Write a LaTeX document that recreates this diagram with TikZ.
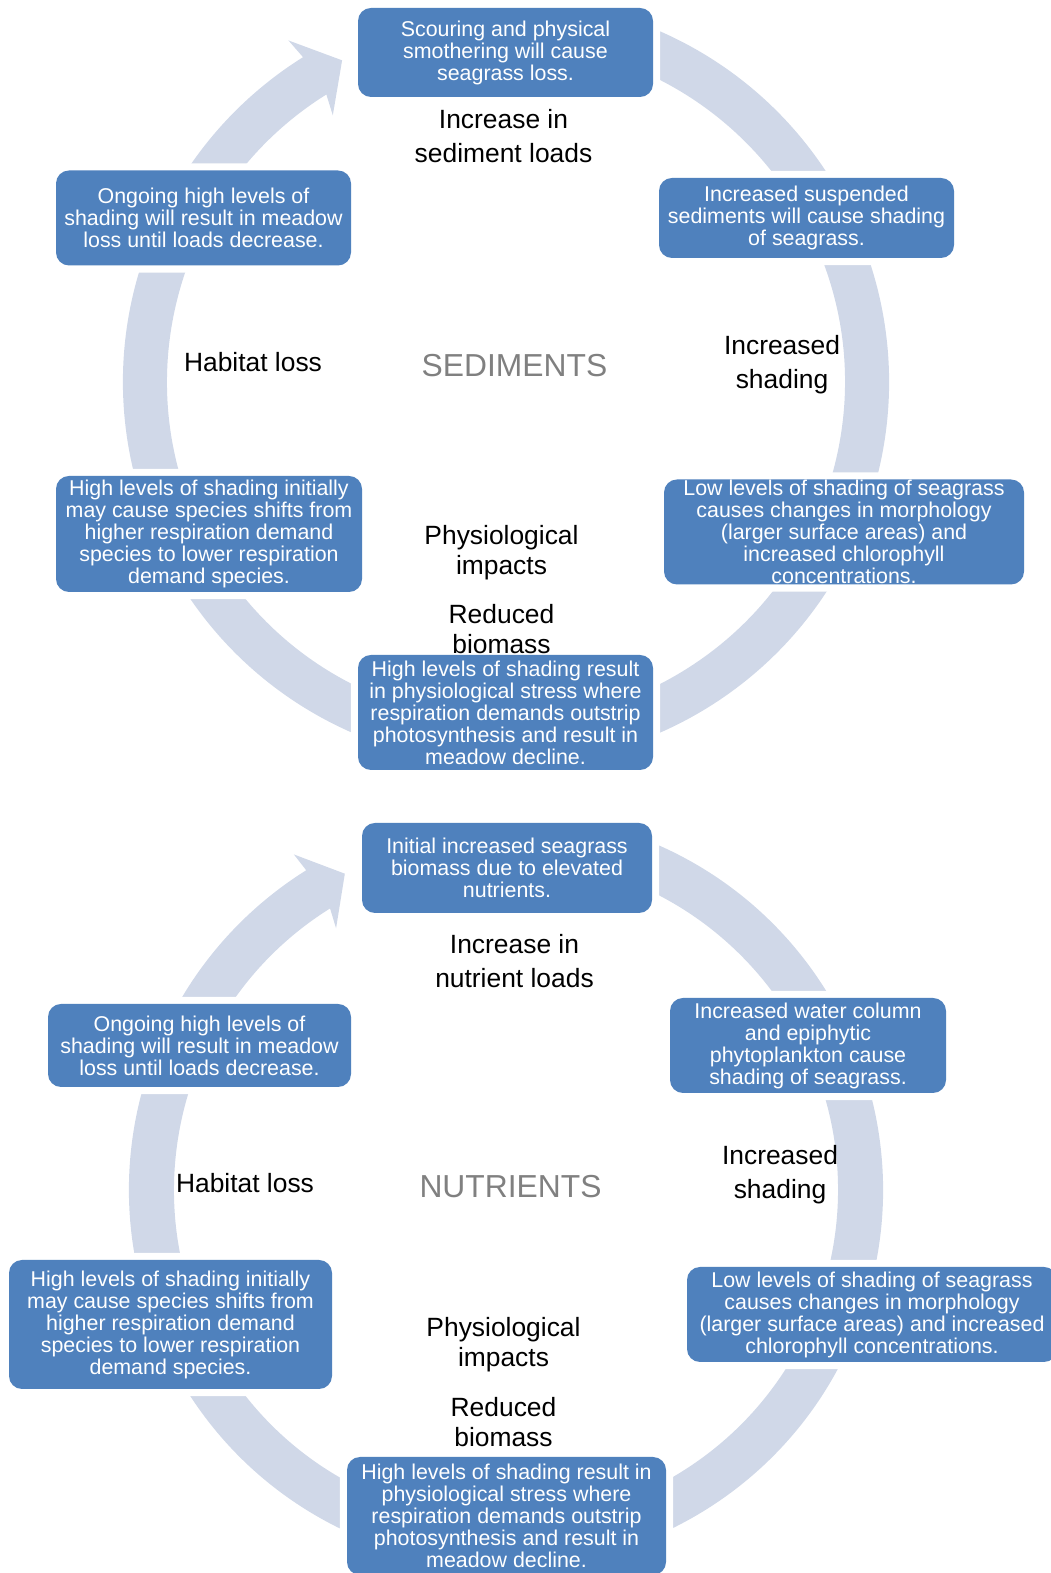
\documentclass[tikz,border=0pt]{standalone}
\usepackage{fontspec}
\setmainfont{Liberation Sans}
\definecolor{boxblue}{HTML}{4F81BD}
\definecolor{ringgrey}{HTML}{D0D8E8}
\pgfdeclarelayer{ringlayer}
\pgfdeclarelayer{gaplayer}
\pgfsetlayers{ringlayer,gaplayer,main}

\begin{document}
\begin{tikzpicture}[x=1pt,y=1pt,
  box/.style={rectangle,rounded corners=13pt,fill=boxblue,text=white,align=center,
    inner sep=0pt,font=\fontsize{21.4}{22}\selectfont},
  lbl/.style={align=center,font=\fontsize{26.4}{34}\selectfont},
  ttl/.style={text=black!50,font=\fontsize{31.8}{36}\selectfont}]
  \useasboundingbox (0,0) rectangle (1051,1573);

  % sediments cycle
  \node[lbl] (sinc) at (503.5,1436.5) {Increase in\\sediment loads};
  \node[lbl] (sshade) at (782,1208.5) {Increased\\shading};
  \node[lbl] (sphys) at (501.5,1020.4) {Physiological\\[-4pt]impacts};
  \node[lbl] (sred) at (501.5,943.5) {Reduced\\[-4pt]biomass};
  \node[lbl] (shab) at (253,1211) {Habitat loss};
  \node[ttl] (stitle) at (514.5,1207) {SEDIMENTS};

  \node[box,minimum width=295pt,minimum height=89pt] (scour) at (505.5,1520.5)
    {Scouring and physical\\smothering will cause\\seagrass loss.};
  \node[box,minimum width=295pt,minimum height=80pt] (susp) at (806.5,1355)
    {Increased suspended\\sediments will cause shading\\of seagrass.};
  \node[box,minimum width=360pt,minimum height=105pt] (slow) at (844,1041)
    {Low levels of shading of seagrass\\causes changes in morphology\\(larger surface areas) and\\increased chlorophyll\\concentrations.};
  \node[box,minimum width=295pt,minimum height=115pt] (shigh) at (505.5,860.5)
    {High levels of shading result\\in physiological stress where\\respiration demands outstrip\\photosynthesis and result in\\meadow decline.};
  \node[box,minimum width=306pt,minimum height=116pt] (sspec) at (209,1039)
    {High levels of shading initially\\may cause species shifts from\\higher respiration demand\\species to lower respiration\\demand species.};
  \node[box,minimum width=295pt,minimum height=95pt] (songo) at (203.5,1355)
    {Ongoing high levels of\\shading will result in meadow\\loss until loads decrease.};

  % nutrients cycle
  \node[lbl] (ninc) at (514.5,611.5) {Increase in\\nutrient loads};
  \node[lbl] (nshade) at (780,398) {Increased\\shading};
  \node[lbl] (nphys) at (503.5,228) {Physiological\\[-4pt]impacts};
  \node[lbl] (nred) at (503.5,151) {Reduced\\[-4pt]biomass};
  \node[lbl] (nhab) at (245,389.5) {Habitat loss};
  \node[ttl] (ntitle) at (510.5,386.5) {NUTRIENTS};

  \node[box,minimum width=290pt,minimum height=90pt] (ninit) at (507,705)
    {Initial increased seagrass\\biomass due to elevated\\nutrients.};
  \node[box,minimum width=276pt,minimum height=95pt] (nwater) at (808,527.5)
    {Increased water column\\and epiphytic\\phytoplankton cause\\shading of seagrass.};
  \node[box,minimum width=370pt,minimum height=95pt] (nlow) at (872,258.5)
    {Low levels of shading of seagrass\\causes changes in morphology\\(larger surface areas) and increased\\chlorophyll concentrations.};
  \node[box,minimum width=319pt,minimum height=118pt] (nhigh) at (506.5,57)
    {High levels of shading result in\\physiological stress where\\respiration demands outstrip\\photosynthesis and result in\\meadow decline.};
  \node[box,minimum width=323pt,minimum height=129pt] (nspec) at (170.5,248.5)
    {High levels of shading initially\\may cause species shifts from\\higher respiration demand\\species to lower respiration\\demand species.};
  \node[box,minimum width=303pt,minimum height=83pt] (nongo) at (199.5,527.5)
    {Ongoing high levels of\\shading will result in meadow\\loss until loads decrease.};

  % rings with arrow heads
  \begin{pgfonlayer}{ringlayer}
    \fill[ringgrey,shift={(506,1191)}] (67:383) arc[start angle=67,end angle=-238,radius=383]
      -- (122.5:405) -- (117:361) -- (123:318) -- (-238:339)
      arc[start angle=-238,end angle=67,radius=339] -- cycle;
    \fill[ringgrey,shift={(506,383)}] (67:377) arc[start angle=67,end angle=-238,radius=377]
      -- (122.3:397) -- (117:355) -- (123:312) -- (-238:332)
      arc[start angle=-238,end angle=67,radius=332] -- cycle;
  \end{pgfonlayer}
  \begin{pgfonlayer}{gaplayer}
    \foreach \b in {scour,susp,slow,shigh,sspec,songo,ninit,nwater,nlow,nhigh,nspec,nongo}
      \fill[white,rounded corners=13pt] ([shift={(-7,-7)}]\b.south west) rectangle ([shift={(7,7)}]\b.north east);
  \end{pgfonlayer}
\end{tikzpicture}
\end{document}
